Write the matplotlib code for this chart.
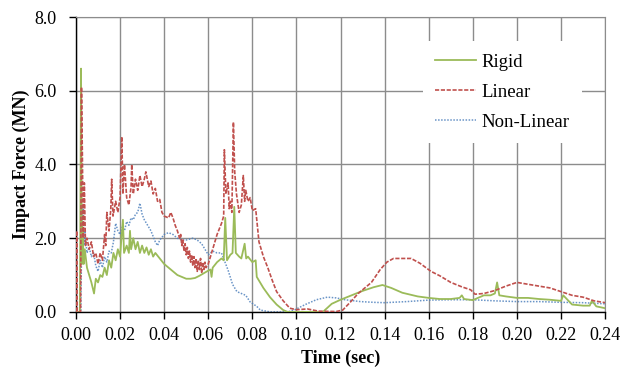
"""
Impact force vs time for rigid / linear / non-linear models
"""
import matplotlib
matplotlib.use('Agg')
import matplotlib.pyplot as plt
from matplotlib.ticker import FormatStrFormatter

plt.rcParams['font.family'] = ['Liberation Serif', 'DejaVu Serif']

# %% data
rigid_t = [0, 0.0018, 0.0023, 0.0027, 0.0030, 0.0035, 0.004, 0.005, 0.006, 0.007,
           0.0082, 0.009, 0.010, 0.011, 0.012, 0.013, 0.014, 0.015, 0.016, 0.017,
           0.018, 0.019, 0.020, 0.0205, 0.0213, 0.0218, 0.023, 0.024, 0.0245, 0.025,
           0.026, 0.027, 0.028, 0.029, 0.030, 0.031, 0.032, 0.033, 0.034, 0.035,
           0.036, 0.038, 0.040, 0.042, 0.044, 0.046, 0.048, 0.050, 0.052, 0.054,
           0.056, 0.058, 0.060, 0.061, 0.0615, 0.062, 0.064, 0.066, 0.067, 0.0677,
           0.0685, 0.070, 0.071, 0.0718, 0.0725, 0.074, 0.075, 0.0765, 0.0772, 0.078,
           0.080, 0.0815, 0.082, 0.085, 0.088, 0.091, 0.094, 0.096, 0.100, 0.105,
           0.112, 0.116, 0.120, 0.125, 0.130, 0.135, 0.139, 0.143, 0.148, 0.155,
           0.160, 0.165, 0.170, 0.174, 0.175, 0.176, 0.180, 0.185, 0.188, 0.190,
           0.191, 0.192, 0.195, 0.200, 0.205, 0.210, 0.215, 0.220, 0.221, 0.225,
           0.230, 0.233, 0.234, 0.236, 0.240]
rigid_f = [0, 0, 6.6, 1.3, 2.3, 1.3, 1.7, 1.2, 1.0, 0.8,
           0.5, 0.9, 0.8, 1.0, 0.95, 1.2, 1.0, 1.4, 1.2, 1.6,
           1.4, 1.7, 1.5, 1.9, 2.5, 1.6, 1.8, 1.6, 2.2, 1.7,
           2.0, 1.7, 1.9, 1.6, 1.8, 1.6, 1.75, 1.55, 1.7, 1.5,
           1.6, 1.45, 1.3, 1.2, 1.1, 1.0, 0.95, 0.9, 0.9, 0.92,
           0.98, 1.05, 1.12, 1.15, 0.95, 1.2, 1.35, 1.45, 1.4, 2.55,
           1.4, 1.55, 1.6, 2.85, 1.6, 1.5, 1.45, 1.85, 1.45, 1.5,
           1.35, 1.4, 0.95, 0.65, 0.4, 0.2, 0.05, 0, 0, 0,
           0, 0.22, 0.33, 0.45, 0.57, 0.67, 0.73, 0.65, 0.52, 0.42,
           0.38, 0.35, 0.35, 0.38, 0.45, 0.35, 0.32, 0.45, 0.45, 0.5,
           0.8, 0.45, 0.42, 0.38, 0.38, 0.35, 0.33, 0.3, 0.45, 0.2,
           0.17, 0.17, 0.3, 0.15, 0.1]

linear_t = [0, 0.0003, 0.0006, 0.0021, 0.0025, 0.0029, 0.0033, 0.0038, 0.0043, 0.005,
            0.006, 0.007, 0.008, 0.009, 0.010, 0.011, 0.012, 0.013, 0.0135, 0.014,
            0.015, 0.0158, 0.0162, 0.0168, 0.018, 0.019, 0.020, 0.0208, 0.0213, 0.022,
            0.023, 0.024, 0.025, 0.0253, 0.026, 0.027, 0.028, 0.029, 0.030, 0.031,
            0.0317, 0.033, 0.034, 0.035, 0.036, 0.037, 0.038, 0.039, 0.040, 0.042,
            0.043, 0.044, 0.045, 0.046, 0.047, 0.0475, 0.048, 0.0485, 0.049, 0.0495,
            0.050, 0.0505, 0.051, 0.0515, 0.052, 0.0525, 0.053, 0.0535, 0.054, 0.0545,
            0.055, 0.0555, 0.056, 0.0565, 0.057, 0.0575, 0.058, 0.0585, 0.059, 0.060,
            0.062, 0.064,
            0.066, 0.067, 0.0673, 0.068, 0.069, 0.0695, 0.070, 0.0707, 0.0714, 0.072,
            0.0728, 0.074, 0.075, 0.0759, 0.0765, 0.077, 0.078, 0.079, 0.080, 0.0815,
            0.083, 0.085, 0.087, 0.089, 0.091, 0.094, 0.097, 0.100, 0.105, 0.110,
            0.118, 0.121, 0.1245, 0.128, 0.131, 0.134, 0.138, 0.141, 0.144, 0.152,
            0.156, 0.161, 0.165, 0.170, 0.175, 0.179, 0.181, 0.185, 0.190, 0.195,
            0.200, 0.205, 0.210, 0.215, 0.220, 0.225, 0.230, 0.235, 0.240]
linear_f = [0, 2.2, 0, 0, 6.1, 4.3, 2.0, 3.5, 1.8, 2.0,
            1.7, 1.9, 1.5, 1.6, 1.3, 1.6, 1.4, 2.1, 1.8, 2.7,
            2.2, 2.8, 3.6, 2.6, 3.0, 2.7, 3.1, 4.75, 3.2, 4.0,
            3.1, 2.9, 3.4, 4.0, 3.2, 3.6, 3.3, 3.7, 3.4, 3.6,
            3.8, 3.4, 3.55, 3.2, 3.35, 3.0, 3.05, 2.7, 2.6, 2.55,
            2.7, 2.55, 2.35, 2.2, 2.0, 2.1, 1.8, 1.95, 1.65, 1.85,
            1.55, 1.75, 1.45, 1.65, 1.35, 1.55, 1.25, 1.5, 1.2, 1.45,
            1.1, 1.4, 1.15, 1.45, 1.05, 1.35, 1.15, 1.35, 1.2, 1.3,
            1.7, 2.1,
            2.4, 2.6, 4.4, 3.2, 3.5, 2.8, 3.0, 2.7, 5.15, 3.8,
            3.2, 2.7, 2.9, 3.7, 3.0, 3.3, 3.0, 3.1, 2.75, 2.8,
            1.9, 1.5, 1.2, 0.86, 0.55, 0.3, 0.1, 0.06, 0.08, 0.02,
            0.01, 0.05, 0.27, 0.5, 0.65, 0.8, 1.15, 1.35, 1.45, 1.45,
            1.32, 1.1, 0.98, 0.8, 0.68, 0.6, 0.48, 0.5, 0.58, 0.7,
            0.8, 0.75, 0.7, 0.65, 0.55, 0.45, 0.4, 0.3, 0.25]

nonlin_t = [0, 0.0022, 0.0026, 0.0032, 0.0037, 0.004, 0.005, 0.006, 0.007, 0.008,
            0.009, 0.010, 0.011, 0.012, 0.013, 0.014, 0.015, 0.016, 0.017, 0.018,
            0.019, 0.020, 0.021, 0.022, 0.023, 0.024, 0.025, 0.026, 0.027, 0.028,
            0.029, 0.030, 0.031, 0.032, 0.033, 0.034, 0.035, 0.036, 0.037, 0.038,
            0.040, 0.042, 0.044, 0.046, 0.048, 0.050, 0.053, 0.055, 0.057, 0.059,
            0.060, 0.062, 0.064, 0.066, 0.069, 0.071, 0.073, 0.075, 0.077, 0.079,
            0.082, 0.0836, 0.088, 0.096, 0.099, 0.104, 0.109, 0.114, 0.118, 0.122,
            0.129, 0.135, 0.140, 0.150, 0.160, 0.170, 0.180, 0.190, 0.200, 0.210,
            0.220, 0.230, 0.240]
nonlin_f = [0, 0, 2.0, 2.9, 1.8, 2.2, 1.6, 1.75, 1.5, 1.6,
            1.25, 1.1, 1.4, 1.2, 1.5, 1.35, 1.65, 1.6, 1.9, 2.4,
            2.2, 2.1, 2.3, 2.2, 2.45, 2.35, 2.55, 2.5, 2.65, 2.7,
            2.95, 2.65, 2.5, 2.4, 2.3, 2.2, 2.05, 1.9, 1.8, 1.95,
            2.1, 2.15, 2.1, 2.0, 1.95, 1.95, 2.0, 1.95, 1.85, 1.65,
            1.55, 1.65, 1.6, 1.6, 1.13, 0.75, 0.55, 0.5, 0.45, 0.27,
            0.15, 0.05, 0, 0, 0.05, 0.2, 0.33, 0.4, 0.38, 0.33,
            0.28, 0.26, 0.25, 0.28, 0.32, 0.33, 0.33, 0.3, 0.28, 0.28,
            0.26, 0.25, 0.22]

x_ticks = [0.00, 0.02, 0.04, 0.06, 0.08, 0.10, 0.12, 0.14, 0.16, 0.18, 0.20, 0.22, 0.24]
y_ticks = [0.0, 2.0, 4.0, 6.0, 8.0]

assert len(rigid_t) == len(rigid_f)
assert len(linear_t) == len(linear_f)
assert len(nonlin_t) == len(nonlin_f)

# %% plot
fig = plt.figure(figsize=(6.33, 3.70), dpi=100)
ax = fig.add_axes([0.120, 0.157, 0.836, 0.797])

ax.plot(rigid_t, rigid_f, color='#9BBB59', lw=1.3, label='Rigid', zorder=3)
ax.plot(linear_t, linear_f, color='#C0504D', lw=1.2, ls=(0, (2.5, 1.0)), label='Linear', zorder=4)
ax.plot(nonlin_t, nonlin_f, color='#4F81BD', lw=1.1, ls=(0, (1, 1)), alpha=0.85,
        label='Non-Linear', zorder=2)

ax.set_xlim(0, 0.24)
ax.set_ylim(0, 8.0)
ax.set_xticks(x_ticks)
ax.set_yticks(y_ticks)
ax.xaxis.set_major_formatter(FormatStrFormatter('%.2f'))
ax.yaxis.set_major_formatter(FormatStrFormatter('%.1f'))
ax.tick_params(labelsize=13, length=5, width=1, direction='out')
ax.tick_params(axis='x', pad=6)
ax.tick_params(axis='y', pad=9)

ax.grid(True, color='#8c8c8c', lw=1.0)
ax.set_axisbelow(True)
for side in ['top', 'right']:
    ax.spines[side].set_color('#8c8c8c')
for side in ['left', 'bottom']:
    ax.spines[side].set_color('black')
    ax.spines[side].set_linewidth(1.0)

ax.set_xlabel('Time (sec)', fontsize=13, fontweight='bold', labelpad=4)
ax.set_ylabel('Impact Force (MN)', fontsize=13, fontweight='bold', labelpad=3)

leg = ax.legend(loc='upper left', bbox_to_anchor=(0.655, 0.918), borderaxespad=0,
                fontsize=13.5, handlelength=2.2, handletextpad=0.3,
                labelspacing=0.7, borderpad=0.65,
                facecolor='white', edgecolor='none', framealpha=1, fancybox=False)

fig.savefig('out.png', dpi=100)
